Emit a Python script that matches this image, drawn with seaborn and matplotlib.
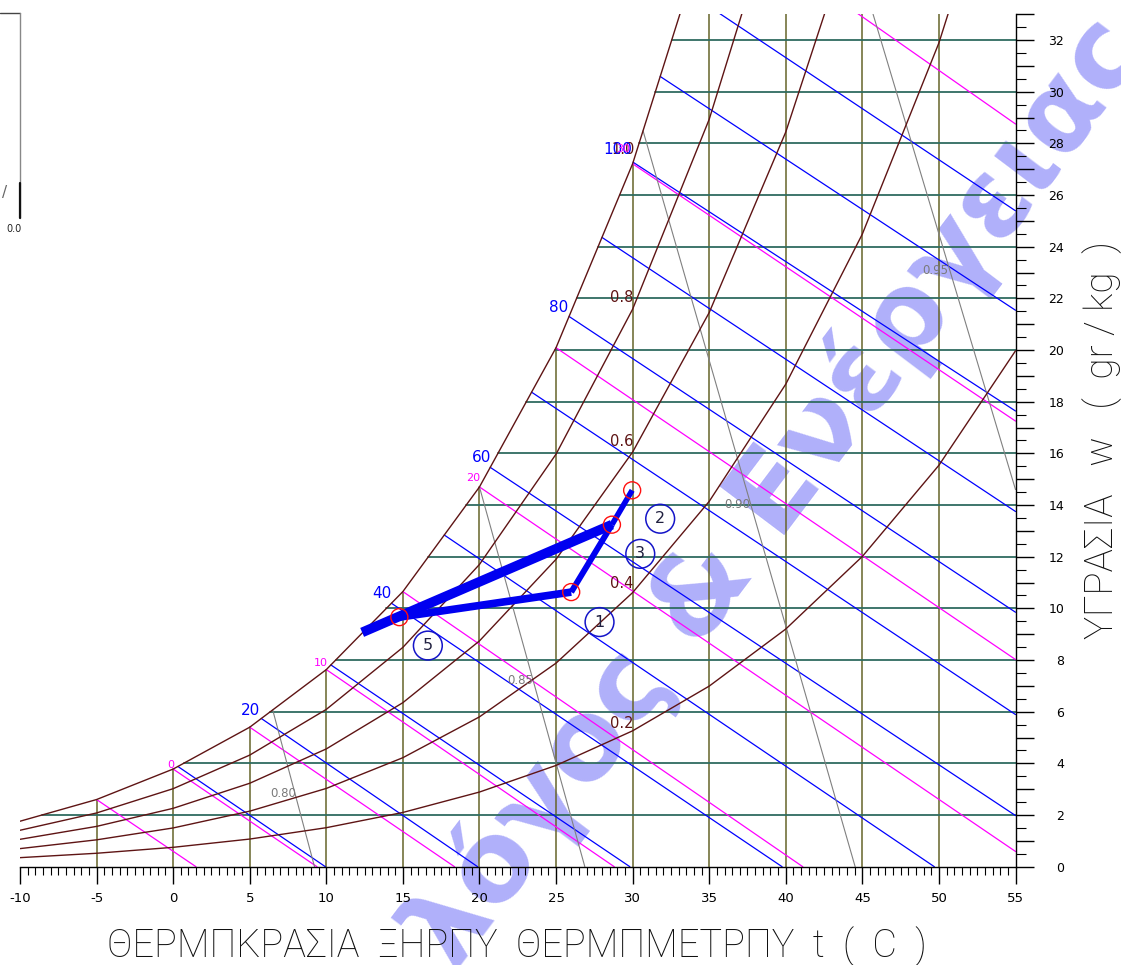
import numpy as np
import pandas as pd
import matplotlib
matplotlib.use("Agg")
import matplotlib.pyplot as plt
from matplotlib.lines import Line2D
import seaborn as sns

# ---------------- data ----------------
# relative-humidity curves (humidity ratio g/kg at each dry-bulb temperature)
T_CURVE = [-10, -5, 0, 5, 10, 15, 20, 25, 30, 35, 40, 45, 50, 55]
W_RH100 = [1.76, 2.60, 3.78, 5.40, 7.63, 10.65, 14.70, 20.09, 27.21, 36.59]
W_RH80 = [1.41, 2.08, 3.02, 4.32, 6.09, 8.49, 11.70, 15.97, 21.58, 28.93, 38.51]
W_RH60 = [1.06, 1.56, 2.26, 3.23, 4.56, 6.35, 8.74, 11.90, 16.05, 21.45, 28.44, 37.47]
W_RH40 = [0.70, 1.04, 1.50, 2.15, 3.03, 4.22, 5.80, 7.88, 10.61, 14.14, 18.68, 24.49, 31.89, 41.27]
W_RH20 = [0.35, 0.52, 0.75, 1.07, 1.51, 2.10, 2.89, 3.92, 5.26, 6.99, 9.20, 12.01, 15.54, 19.97]
RH_LABELS = ["0.8", "0.6", "0.4", "0.2"]
RH_LABEL_T = [29.3, 29.3, 29.3, 29.3]
RH_LABEL_W = [22.05, 16.47, 10.96, 5.54]

# dry-bulb lines
DB_T = [-5, 0, 5, 10, 15, 20, 25, 30, 35, 40, 45, 50]
DB_TOP = [2.60, 3.78, 5.40, 7.63, 10.65, 14.70, 20.09, 27.21, 33.0, 33.0, 33.0, 33.0]

# humidity-ratio lines
W_LINES = [2, 4, 6, 8, 10, 12, 14, 16, 18, 20, 22, 24, 26, 28, 30, 32]
W_LINE_START_T = [-8.59, 0.69, 6.34, 10.61, 13.92, 16.67, 19.14, 21.21, 23.06,
                  24.92, 26.34, 27.75, 29.15, 30.42, 31.49, 32.55]

# enthalpy lines (kJ/kg)
H_VALUES = [10, 20, 30, 40, 50, 60, 70, 80, 90, 100, 110, 120]
H_START_T = [0.31, 5.75, 10.3, 14.25, 17.7, 20.7, 23.4, 25.85, 28.0, 30.03, 31.8, 33.55]
H_START_W = [3.88, 5.74, 7.81, 10.20, 12.84, 15.46, 18.37, 21.30, 24.36, 27.27, 30.59, 33.87]
H_END_T = [9.94, 19.88, 29.82, 39.76, 49.70, 55, 55, 55, 55, 55, 55, 55]
H_END_W = [0, 0, 0, 0, 0, 1.98, 5.89, 9.85, 13.75, 17.64, 21.54, 25.39]
H_LABELS = ["20", "40", "60", "80", "100"]
H_LABEL_T = [5.02, 13.64, 20.11, 25.14, 29.0]
H_LABEL_W = [6.04, 10.58, 15.85, 21.66, 27.78]

# wet-bulb lines (C)
WB_VALUES = [-5, 0, 5, 10, 15, 20, 25, 30, 35]
WB_START_W = [2.60, 3.78, 5.40, 7.63, 10.65, 14.70, 20.09, 27.21, 37.05]
WB_END_T = [1.49, 9.39, 18.37, 28.80, 41.11, 55, 55, 55, 55]
WB_END_W = [0, 0, 0, 0, 0, 0.59, 8.02, 17.25, 28.75]
WB_LABELS = ["0", "10", "20", "30"]
WB_LABEL_T = [-0.14, 9.66, 19.59, 29.39]
WB_LABEL_W = [3.95, 7.9, 15.03, 27.78]

# specific-volume lines (m3/kg)
V_LABELS = ["0.80", "0.85", "0.90", "0.95"]
V_START_T = [6.5, 20.0, 30.68, 45.7]
V_START_W = [6.07, 14.70, 28.49, 33.0]
V_END_T = [9.23, 26.88, 44.53, 55.0]
V_END_W = [0, 0, 0, 14.6]
V_LABEL_T = [7.18, 22.66, 36.83, 49.77]
V_LABEL_W = [2.83, 7.21, 14.01, 23.09]

# air-conditioning process
PROC_NAMES = ["A", "B", "C", "D", "E"]
PROC_T = [12.34, 14.77, 25.99, 28.65, 29.97]
PROC_W = [9.07, 9.66, 10.63, 13.24, 14.57]
STATE_LABELS = ["1", "2", "3", "5"]
STATE_T = [27.84, 31.8, 30.5, 16.63]
STATE_W = [9.47, 13.47, 12.11, 8.56]

X_TICKS = list(range(-10, 60, 5))
Y_TICKS = list(range(0, 34, 1))

# ---------------- styling ----------------
sns.set_style("white")
plt.rcParams["font.family"] = ["DejaVu Sans"]
plt.rcParams["axes.unicode_minus"] = True

C_RH = "#5e1414"
C_DB = "#66642a"
C_W = "#2f6b60"
C_H = "#0000ff"
C_WB = "#ff00ff"
C_V = "#808080"

W_PX, H_PX = 1121, 965
fig = plt.figure(figsize=(W_PX / 100, H_PX / 100), dpi=100)
ax = fig.add_axes([20 / W_PX, 1 - 866.7 / H_PX, (1015.5 - 20) / W_PX, (866.7 - 14.2) / H_PX])
ax.set_facecolor("none")
ax.set_xlim(-10, 55)
ax.set_ylim(0, 33)


def lines_df(segments):
    rows = []
    for i, (ts, ws) in enumerate(segments):
        for k, (t, w) in enumerate(zip(ts, ws)):
            rows.append({"id": i, "k": k, "t": t, "w": w})
    return pd.DataFrame(rows)


def draw(segments, color, lw, z=2):
    df = lines_df(segments)
    sns.lineplot(data=df, x="t", y="w", units="id", estimator=None, sort=False,
                 color=color, linewidth=lw, legend=False, ax=ax, zorder=z)


# dry bulb verticals
draw([([t, t], [0, top]) for t, top in zip(DB_T, DB_TOP)], C_DB, 1.1, 1)
# humidity ratio horizontals
draw([([ts, 55], [w, w]) for w, ts in zip(W_LINES, W_LINE_START_T)], C_W, 1.3, 1)
# RH curves
draw([(T_CURVE[:len(ws)], ws) for ws in [W_RH100, W_RH80, W_RH60, W_RH40, W_RH20]], C_RH, 1.0, 3)
# enthalpy
draw([([a, b], [c, d]) for a, b, c, d in zip(H_START_T, H_END_T, H_START_W, H_END_W)], C_H, 0.9, 2)
# wet bulb
draw([([a, b], [c, d]) for a, b, c, d in zip(WB_VALUES, WB_END_T, WB_START_W, WB_END_W)], C_WB, 0.9, 2)
# specific volume
draw([([a, b], [c, d]) for a, b, c, d in zip(V_START_T, V_END_T, V_START_W, V_END_W)], C_V, 0.8, 2)

# labels on the families
for s, t, w in zip(RH_LABELS, RH_LABEL_T, RH_LABEL_W):
    ax.text(t, w, s, color=C_RH, fontsize=10.5, ha="center", va="center", zorder=5)
ax.text(29.4, 27.78, "1.0", color=C_RH, fontsize=10.5, ha="center", va="center", zorder=5)
for s, t, w in zip(H_LABELS, H_LABEL_T, H_LABEL_W):
    ax.text(t, w, s, color=C_H, fontsize=11, ha="center", va="center", zorder=5)
for s, t, w in zip(WB_LABELS, WB_LABEL_T, WB_LABEL_W):
    ax.text(t, w, s, color=C_WB, fontsize=8, ha="center", va="center", zorder=5)
for s, t, w in zip(V_LABELS, V_LABEL_T, V_LABEL_W):
    ax.text(t, w, s, color="#7a7a7a", fontsize=8.5, ha="center", va="center", zorder=5)

# process lines
P = dict(zip(PROC_NAMES, zip(PROC_T, PROC_W)))
def seg(names, lw):
    df = pd.DataFrame({"t": [P[n][0] for n in names], "w": [P[n][1] for n in names]})
    sns.lineplot(data=df, x="t", y="w", sort=False, estimator=None, color="#0000f0",
                 linewidth=lw, ax=ax, zorder=6, solid_capstyle="butt", legend=False)

seg(["A", "D"], 7.0)
seg(["B", "C"], 5.5)
seg(["C", "D"], 4.3)
seg(["D", "E"], 4.0)

pts = pd.DataFrame({"t": PROC_T[1:], "w": PROC_W[1:]})
sns.scatterplot(data=pts, x="t", y="w", s=150, marker="o", facecolor="none",
                edgecolor="#ff1010", linewidth=1.0, ax=ax, zorder=7, legend=False)

st = pd.DataFrame({"t": STATE_T, "w": STATE_W})
sns.scatterplot(data=st, x="t", y="w", s=430, marker="o", facecolor="none",
                edgecolor="#1414c8", linewidth=1.1, ax=ax, zorder=7, legend=False)
for s, t, w in zip(STATE_LABELS, STATE_T, STATE_W):
    ax.text(t, w, s, fontsize=11.5, color="#202040", ha="center", va="center", zorder=8)

# axes, ticks
for side in ["left", "top"]:
    ax.spines[side].set_visible(False)
ax.spines["right"].set_color("black")
ax.spines["bottom"].set_color("black")
ax.spines["right"].set_linewidth(1.0)
ax.spines["bottom"].set_linewidth(1.0)
ax.set_xlabel("")
ax.set_ylabel("")

ax.set_xticks(X_TICKS)
ax.set_xticklabels([str(v) for v in X_TICKS])
ax.set_xticks(np.arange(-10, 55.01, 0.5), minor=True)
ax.tick_params(axis="x", which="major", direction="out", length=12, width=1.0,
               colors="black", labelsize=9.5, pad=6, bottom=True)
ax.tick_params(axis="x", which="minor", direction="out", length=6, width=0.8,
               colors="black", bottom=True)

ax.yaxis.tick_right()
ax.set_yticks(Y_TICKS)
ax.set_yticklabels([str(v) if v % 2 == 0 and v <= 32 else "" for v in Y_TICKS])
ax.set_yticks(np.arange(0, 33.01, 0.5), minor=True)
ax.tick_params(axis="y", which="major", direction="out", length=13, width=1.0,
               colors="black", labelsize=9, pad=22, right=True, left=False)
ax.tick_params(axis="y", which="minor", direction="out", length=7, width=0.8,
               colors="black", right=True, left=False)
for lbl in ax.get_yticklabels():
    lbl.set_horizontalalignment("right")

# axis titles
fig.text(517 / W_PX, 1 - 946 / H_PX, "ΘΕΡΜΠΚΡΑΣΙΑ  ΞΗΡΠΥ  ΘΕΡΜΠΜΕΤΡΠΥ  t  (  C  )",
         fontsize=27.4, ha="center", va="center", color="#111111",
         family=["Roboto", "DejaVu Sans"], fontweight="light")
fig.text(1102 / W_PX, 1 - 440 / H_PX, "ΥΓΡΑΣΙΑ   w   (  gr / kg  )",
         fontsize=28, ha="center", va="center", rotation=90, color="#111111",
         family=["Roboto", "DejaVu Sans"], fontweight="light")

# truncated neighbouring panel at the top-left
fig.add_artist(Line2D([0, 20 / W_PX], [1 - 13 / H_PX] * 2, transform=fig.transFigure,
                      color="#444444", lw=1.0))
fig.add_artist(Line2D([20 / W_PX] * 2, [1 - 13 / H_PX, 1 - 218 / H_PX], transform=fig.transFigure,
                      color="#888888", lw=1.0))
fig.add_artist(Line2D([20 / W_PX] * 2, [1 - 183 / H_PX, 1 - 218 / H_PX], transform=fig.transFigure,
                      color="#111111", lw=1.6))
fig.text(5 / W_PX, 1 - 192 / H_PX, "/", fontsize=11, color="#666666", ha="center", va="center")
fig.text(14 / W_PX, 1 - 229 / H_PX, "0.0", fontsize=7, color="#222222", ha="center", va="center")

# watermark
fig.text(776 / W_PX, 1 - 492 / H_PX, "λόγος & Ενέργειας", fontsize=80, color="#b0b0fa",
         rotation=53, ha="center", va="center", rotation_mode="anchor", zorder=-1,
         fontweight="bold")

fig.savefig("out.png", dpi=100, facecolor="white")
